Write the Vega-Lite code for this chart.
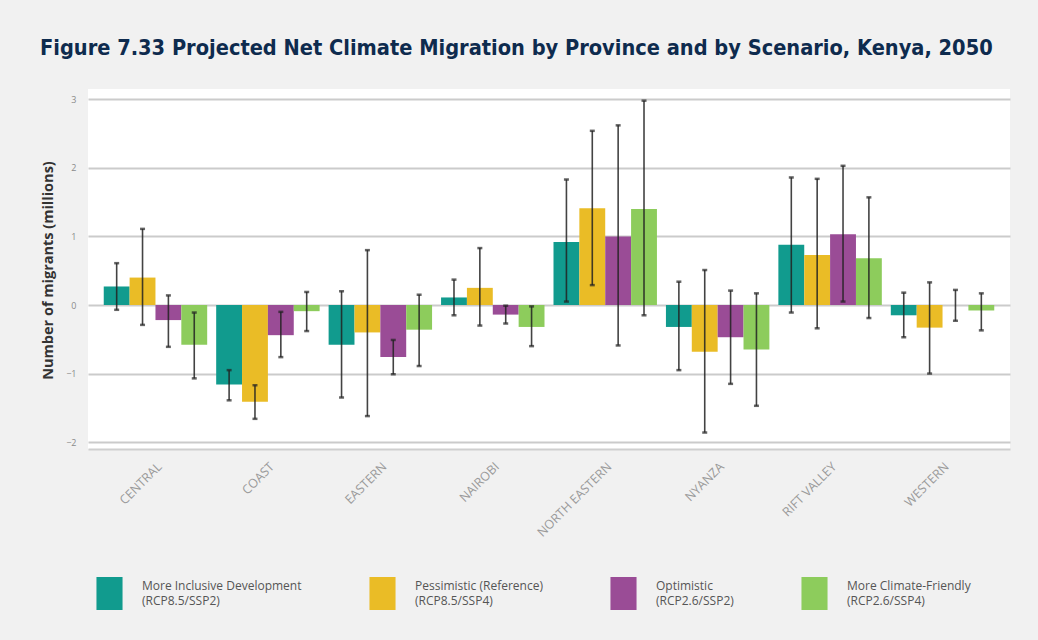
{
  "$schema": "https://vega.github.io/schema/vega-lite/v6.json",
  "autosize": {"type": "none"},
  "width": 922,
  "height": 360,
  "padding": {"left": 88, "top": 89, "right": 28, "bottom": 191},
  "background": "#f1f1f1",
  "title": {
    "text": "Figure 7.33  Projected Net Climate Migration by Province and by Scenario, Kenya, 2050",
    "anchor": "start",
    "frame": "group",
    "dx": -48,
    "offset": 12,
    "baseline": "alphabetic",
    "font": "'DejaVu Sans Condensed', 'DejaVu Sans'",
    "fontSize": 21.6,
    "fontWeight": "bold",
    "color": "#0e2b4e"
  },
  "config": {
    "view": {"fill": "white", "stroke": null},
    "axis": {"labelFont": "Open Sans", "titleFont": "Open Sans"}
  },
  "data": {
    "values": [
      {"province": "CENTRAL", "scenario": "More Inclusive Development|(RCP8.5/SSP2)", "value": 0.27, "lo": -0.07, "hi": 0.61},
      {"province": "CENTRAL", "scenario": "Pessimistic (Reference)|(RCP8.5/SSP4)", "value": 0.40, "lo": -0.29, "hi": 1.11},
      {"province": "CENTRAL", "scenario": "Optimistic|(RCP2.6/SSP2)", "value": -0.22, "lo": -0.61, "hi": 0.14},
      {"province": "CENTRAL", "scenario": "More Climate-Friendly|(RCP2.6/SSP4)", "value": -0.58, "lo": -1.07, "hi": -0.11},
      {"province": "COAST", "scenario": "More Inclusive Development|(RCP8.5/SSP2)", "value": -1.16, "lo": -1.39, "hi": -0.95},
      {"province": "COAST", "scenario": "Pessimistic (Reference)|(RCP8.5/SSP4)", "value": -1.41, "lo": -1.66, "hi": -1.17},
      {"province": "COAST", "scenario": "Optimistic|(RCP2.6/SSP2)", "value": -0.44, "lo": -0.76, "hi": -0.10},
      {"province": "COAST", "scenario": "More Climate-Friendly|(RCP2.6/SSP4)", "value": -0.09, "lo": -0.38, "hi": 0.19},
      {"province": "EASTERN", "scenario": "More Inclusive Development|(RCP8.5/SSP2)", "value": -0.58, "lo": -1.35, "hi": 0.20},
      {"province": "EASTERN", "scenario": "Pessimistic (Reference)|(RCP8.5/SSP4)", "value": -0.40, "lo": -1.62, "hi": 0.80},
      {"province": "EASTERN", "scenario": "Optimistic|(RCP2.6/SSP2)", "value": -0.76, "lo": -1.01, "hi": -0.51},
      {"province": "EASTERN", "scenario": "More Climate-Friendly|(RCP2.6/SSP4)", "value": -0.36, "lo": -0.89, "hi": 0.15},
      {"province": "NAIROBI", "scenario": "More Inclusive Development|(RCP8.5/SSP2)", "value": 0.11, "lo": -0.15, "hi": 0.37},
      {"province": "NAIROBI", "scenario": "Pessimistic (Reference)|(RCP8.5/SSP4)", "value": 0.25, "lo": -0.30, "hi": 0.83},
      {"province": "NAIROBI", "scenario": "Optimistic|(RCP2.6/SSP2)", "value": -0.14, "lo": -0.27, "hi": -0.01},
      {"province": "NAIROBI", "scenario": "More Climate-Friendly|(RCP2.6/SSP4)", "value": -0.32, "lo": -0.60, "hi": -0.02},
      {"province": "NORTH EASTERN", "scenario": "More Inclusive Development|(RCP8.5/SSP2)", "value": 0.92, "lo": 0.05, "hi": 1.83},
      {"province": "NORTH EASTERN", "scenario": "Pessimistic (Reference)|(RCP8.5/SSP4)", "value": 1.41, "lo": 0.29, "hi": 2.54},
      {"province": "NORTH EASTERN", "scenario": "Optimistic|(RCP2.6/SSP2)", "value": 1.00, "lo": -0.59, "hi": 2.62},
      {"province": "NORTH EASTERN", "scenario": "More Climate-Friendly|(RCP2.6/SSP4)", "value": 1.40, "lo": -0.15, "hi": 2.98},
      {"province": "NYANZA", "scenario": "More Inclusive Development|(RCP8.5/SSP2)", "value": -0.32, "lo": -0.95, "hi": 0.34},
      {"province": "NYANZA", "scenario": "Pessimistic (Reference)|(RCP8.5/SSP4)", "value": -0.68, "lo": -1.86, "hi": 0.51},
      {"province": "NYANZA", "scenario": "Optimistic|(RCP2.6/SSP2)", "value": -0.47, "lo": -1.15, "hi": 0.21},
      {"province": "NYANZA", "scenario": "More Climate-Friendly|(RCP2.6/SSP4)", "value": -0.65, "lo": -1.47, "hi": 0.17},
      {"province": "RIFT VALLEY", "scenario": "More Inclusive Development|(RCP8.5/SSP2)", "value": 0.88, "lo": -0.11, "hi": 1.86},
      {"province": "RIFT VALLEY", "scenario": "Pessimistic (Reference)|(RCP8.5/SSP4)", "value": 0.73, "lo": -0.34, "hi": 1.84},
      {"province": "RIFT VALLEY", "scenario": "Optimistic|(RCP2.6/SSP2)", "value": 1.03, "lo": 0.05, "hi": 2.03},
      {"province": "RIFT VALLEY", "scenario": "More Climate-Friendly|(RCP2.6/SSP4)", "value": 0.68, "lo": -0.19, "hi": 1.57},
      {"province": "WESTERN", "scenario": "More Inclusive Development|(RCP8.5/SSP2)", "value": -0.15, "lo": -0.47, "hi": 0.18},
      {"province": "WESTERN", "scenario": "Pessimistic (Reference)|(RCP8.5/SSP4)", "value": -0.33, "lo": -1.00, "hi": 0.33},
      {"province": "WESTERN", "scenario": "Optimistic|(RCP2.6/SSP2)", "value": 0.00, "lo": -0.23, "hi": 0.22},
      {"province": "WESTERN", "scenario": "More Climate-Friendly|(RCP2.6/SSP4)", "value": -0.08, "lo": -0.37, "hi": 0.17}
    ]
  },
  "encoding": {
    "x": {
      "field": "province",
      "type": "nominal",
      "sort": null,
      "scale": {"paddingInner": 0.08, "paddingOuter": 0.14},
      "axis": {
        "title": null,
        "labelAngle": -45,
        "labelFontSize": 12.5,
        "labelColor": "#9a9a9a",
        "labelPadding": 11,
        "ticks": false,
        "domain": true,
        "domainColor": "#cfcfcf",
        "domainWidth": 2
      }
    },
    "xOffset": {
      "field": "scenario",
      "type": "nominal",
      "sort": ["More Inclusive Development|(RCP8.5/SSP2)", "Pessimistic (Reference)|(RCP8.5/SSP4)", "Optimistic|(RCP2.6/SSP2)", "More Climate-Friendly|(RCP2.6/SSP4)"],
      "scale": {"paddingInner": 0, "paddingOuter": 0}
    }
  },
  "layer": [
    {
      "mark": {"type": "bar"},
      "encoding": {
        "y": {
          "field": "value",
          "type": "quantitative",
          "scale": {"domain": [-2.1, 3.15], "nice": false, "zero": false},
          "axis": {
            "title": "Number of migrants (millions)",
            "titleFontSize": 14.5,
            "titleFontWeight": "bold",
            "titleColor": "#333333",
            "titleX": -40,
            "titleY": 181,
            "titleAngle": -90,
            "titleAlign": "center",
            "titleBaseline": "middle",
            "format": "d",
            "values": [-2, -1, 0, 1, 2, 3],
            "labelFontSize": 9,
            "labelColor": "#8a8a8a",
            "labelPadding": 12,
            "ticks": false,
            "domain": false,
            "grid": true,
            "gridColor": "#cbcbcb",
            "gridWidth": 2
          }
        },
        "color": {
          "field": "scenario",
          "type": "nominal",
          "scale": {
            "domain": ["More Inclusive Development|(RCP8.5/SSP2)", "Pessimistic (Reference)|(RCP8.5/SSP4)", "Optimistic|(RCP2.6/SSP2)", "More Climate-Friendly|(RCP2.6/SSP4)"],
            "range": ["#119b8e", "#eabc26", "#9a4c96", "#8dcc5c"]
          },
          "legend": {
            "title": null,
            "orient": "none",
            "legendX": 5,
            "legendY": 488,
            "direction": "horizontal",
            "columns": 4,
            "columnPadding": 64,
            "symbolType": "M-0.79,-1H0.79V1H-0.79Z",
            "symbolSize": 1089,
            "symbolStrokeWidth": 0,
            "symbolOpacity": 1,
            "labelOffset": 16,
            "labelFont": "Open Sans",
            "labelFontSize": 12,
            "labelColor": "#555555",
            "labelLimit": 300,
            "labelExpr": "split(datum.label, '|')",
            "encode": {
              "labels": {
                "update": {
                  "lineHeight": {"value": 15},
                  "dy": {"value": -8}
                }
              }
            }
          }
        }
      }
    },
    {
      "mark": {"type": "rule", "color": "#222222", "strokeWidth": 1.6, "opacity": 0.85},
      "encoding": {
        "y": {"field": "lo", "type": "quantitative"},
        "y2": {"field": "hi"}
      }
    },
    {
      "mark": {"type": "tick", "orient": "horizontal", "color": "#222222", "size": 5, "thickness": 2.5},
      "encoding": {"y": {"field": "lo", "type": "quantitative"}}
    },
    {
      "mark": {"type": "tick", "orient": "horizontal", "color": "#222222", "size": 5, "thickness": 2.5},
      "encoding": {"y": {"field": "hi", "type": "quantitative"}}
    }
  ]
}
